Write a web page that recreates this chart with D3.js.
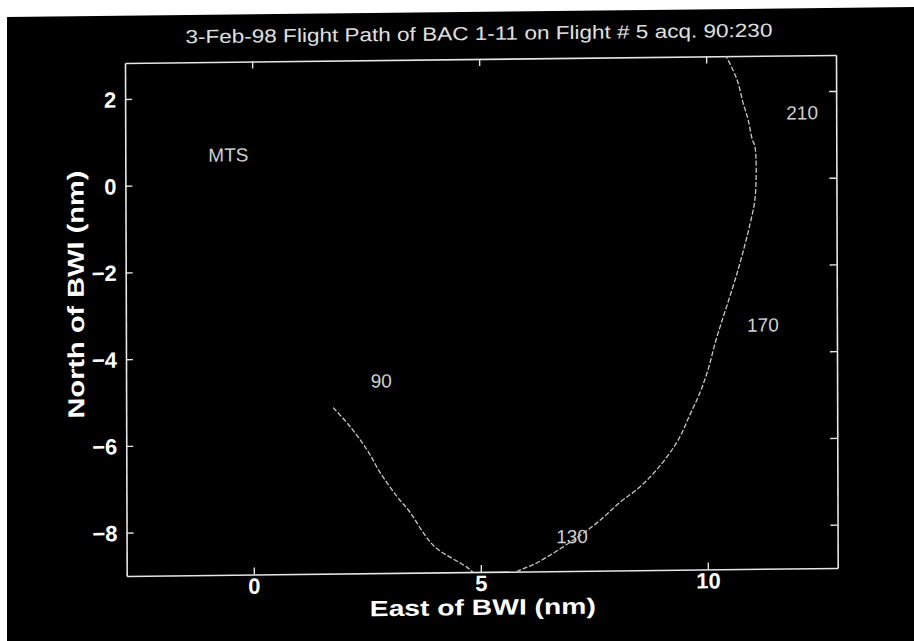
<!DOCTYPE html>
<html>
<head>
<meta charset="utf-8">
<script src="https://cdn.jsdelivr.net/npm/d3@7"></script>
<style>
  body { margin: 0; background: #fff; }
  svg { display: block; }
</style>
</head>
<body>
<div class="chart"></div>
<script>
const svgWidth = 914;
const svgHeight = 641;

// plot box (before the scan skew is applied)
const box = { left: 125, top: 63, right: 836, bottom: 576 };

// axis limits and ticks
const xDomain = [-2.8, 12.86];
const yDomain = [-9, 2.83];
const xTicks = [0, 5, 10];
const yTicks = [-8, -6, -4, -2, 0, 2];

// flight path (nm east / nm north of BWI)
const pathEast  = [1.76, 2.13, 2.50, 2.79, 3.16, 3.45, 3.73, 4.00, 4.70, 4.83, 5.30, 5.82, 6.26, 7.46, 8.07, 8.52, 8.96, 9.36, 9.62, 9.84, 10.02, 10.20, 10.67, 10.96, 11.07, 11.07, 11.01, 10.92, 10.81, 10.68, 10.44, 10.30];
const pathNorth = [-5.17, -5.61, -6.15, -6.68, -7.24, -7.61, -8.07, -8.42, -8.89, -9.01, -9.35, -8.99, -8.79, -7.98, -7.43, -7.07, -6.59, -6.00, -5.42, -4.92, -4.39, -3.70, -2.16, -1.02, -0.42, 0.73, 0.90, 1.36, 1.75, 2.28, 2.83, 3.10];

// text labels inside the plot
const labelText  = ['MTS', '90', '130', '170', '210'];
const labelEast  = [-0.53, 2.82, 7.01, 11.23, 12.11];
const labelNorth = [0.69, -4.56, -8.20, -3.37, 1.51];

const titleText = '3-Feb-98 Flight Path of BAC 1-11 on Flight # 5 acq. 90:230';

const svg = d3.select('.chart')
  .append('svg')
  .attr('width', svgWidth)
  .attr('height', svgHeight);

// black scanned page area
svg.append('polygon')
  .attr('points', '7,17 914,7 914,641 7,641')
  .attr('fill', '#000');

// everything else is slightly skewed like the scan
const g = svg.append('g')
  .attr('transform', `translate(${box.left},${box.top}) matrix(1,-0.0113,0.0033,1,0,0) translate(${-box.left},${-box.top})`);

const x = d3.scaleLinear().domain(xDomain).range([box.left, box.right]);
const y = d3.scaleLinear().domain(yDomain).range([box.bottom, box.top]);

const axisColor = '#e6e6e6';
const tickLen = 7;

//axes on all four sides, ticks pointing in
const bottomAxis = d3.axisBottom(x).tickValues(xTicks).tickSizeInner(-tickLen).tickSizeOuter(0).tickFormat(d3.format('d'));
const topAxis = d3.axisTop(x).tickValues(xTicks).tickSizeInner(-tickLen).tickSizeOuter(0).tickFormat('');
const leftAxis = d3.axisLeft(y).tickValues(yTicks).tickSizeInner(-tickLen).tickSizeOuter(0).tickFormat(d => d < 0 ? '\u2212' + Math.abs(d) : d);
const rightAxis = d3.axisRight(y).tickValues(yTicks).tickSizeInner(-tickLen).tickSizeOuter(0).tickFormat('');

const gb = g.append('g').attr('transform', `translate(0,${box.bottom})`).call(bottomAxis);
const gt = g.append('g').attr('transform', `translate(0,${box.top})`).call(topAxis);
const gl = g.append('g').attr('transform', `translate(${box.left},0)`).call(leftAxis);
const gr = g.append('g').attr('transform', `translate(${box.right},0)`).call(rightAxis);

[gb, gt, gl, gr].forEach(a => {
  a.select('.domain').attr('stroke', axisColor).attr('stroke-width', 1.6);
  a.selectAll('.tick line').attr('stroke', axisColor).attr('stroke-width', 1.4);
  a.selectAll('.tick text')
    .attr('fill', '#fff')
    .style('font-family', '"Liberation Sans", Arial, sans-serif')
    .style('font-weight', 'bold')
    .style('font-size', '22px');
});
gb.selectAll('.tick text').attr('dy', null).attr('y', 19);
gl.selectAll('.tick text').attr('x', -9).attr('dy', '0.36em');

// flight path, clipped to the axes box
g.append('clipPath').attr('id', 'plotClip')
  .append('rect')
  .attr('x', box.left).attr('y', box.top)
  .attr('width', box.right - box.left).attr('height', box.bottom - box.top);

const line = d3.line()
  .x(i => x(pathEast[i]))
  .y(i => y(pathNorth[i]))
  .curve(d3.curveCatmullRom);

g.append('path')
  .datum(d3.range(pathEast.length))
  .attr('clip-path', 'url(#plotClip)')
  .attr('d', line)
  .attr('fill', 'none')
  .attr('stroke', '#c8c8c8')
  .attr('stroke-width', 1.3)
  .attr('stroke-dasharray', '5,2');

// labels along the path
g.selectAll('.pathLabel')
  .data(labelText)
  .enter()
  .append('text')
  .attr('class', 'pathLabel')
  .attr('x', (d, i) => x(labelEast[i]))
  .attr('y', (d, i) => y(labelNorth[i]))
  .attr('dy', '0.36em')
  .attr('text-anchor', 'middle')
  .attr('fill', '#d0d0d0')
  .style('font-family', '"Liberation Sans", Arial, sans-serif')
  .style('font-weight', '300')
  .style('font-size', '19px')
  .text(d => d);

// title and axis labels
g.append('text')
  .attr('x', 479)
  .attr('y', 44)
  .attr('text-anchor', 'middle')
  .attr('fill', '#e0e0e0')
  .attr('textLength', 587)
  .attr('lengthAdjust', 'spacingAndGlyphs')
  .style('font-family', '"Liberation Sans", Arial, sans-serif')
  .style('font-size', '19px')
  .text(titleText);

g.append('text')
  .attr('x', 481)
  .attr('y', 619)
  .attr('text-anchor', 'middle')
  .attr('fill', '#fff')
  .attr('textLength', 226)
  .attr('lengthAdjust', 'spacingAndGlyphs')
  .style('font-family', '"Liberation Sans", Arial, sans-serif')
  .style('font-weight', 'bold')
  .style('font-size', '22px')
  .text('East of BWI (nm)');

g.append('text')
  .attr('transform', 'translate(83,294) rotate(-90)')
  .attr('text-anchor', 'middle')
  .attr('fill', '#fff')
  .attr('textLength', 248)
  .attr('lengthAdjust', 'spacingAndGlyphs')
  .style('font-family', '"Liberation Sans", Arial, sans-serif')
  .style('font-weight', 'bold')
  .style('font-size', '23px')
  .text('North of BWI (nm)');
</script>
</body>
</html>
